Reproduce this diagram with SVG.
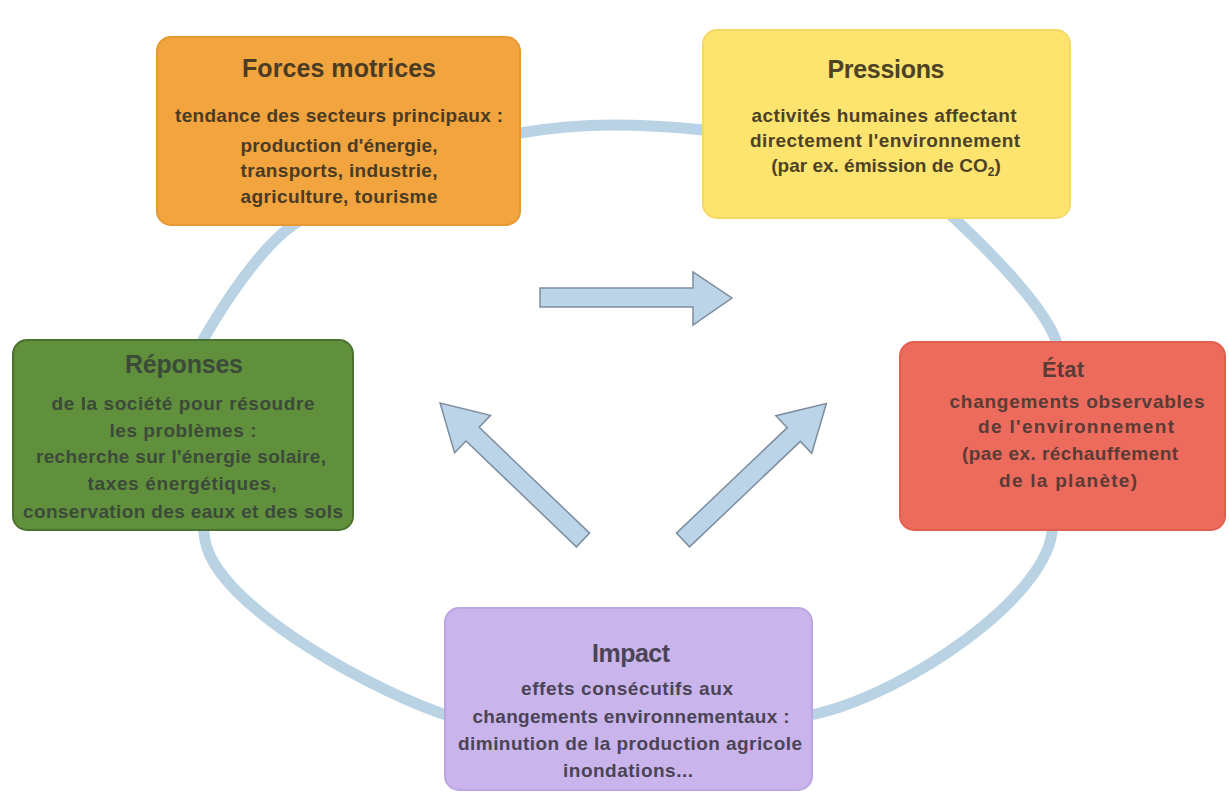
<svg xmlns="http://www.w3.org/2000/svg" width="1229" height="795" viewBox="0 0 1229 795">
<style>
.ring{fill:none;stroke:#b9d3e4;stroke-width:11;stroke-linecap:round;stroke-linejoin:round}
.arr{fill:#bcd4e8;stroke:#7d8d9e;stroke-width:1.5;stroke-linejoin:miter}
.box{stroke-width:2}
text{font-family:"Liberation Sans",Arial,Helvetica,sans-serif;font-weight:bold;text-anchor:middle}
.t{font-size:25px}
.b{font-size:19px}
</style>
<rect width="1229" height="795" fill="#ffffff"/>
<g id="connectors">
<path class="ring" d="M520,133 C550,128 580,125 612,125 C645,125 675,127 703,130 C770,137 909,176 953,217 C982,244 1040,301 1055,338 C1074,384 1059,486 1052,533 C1042,600 910,690 820,713 C770,726 490,731 440,713 C350,680 215,600 205,540 C201,516 186,370 203,340 C223,305 260,248 293,225 C342,191 460,142 520,133 Z"/>
<polygon class="arr" points="540,288 693,288 693,272 732,298 693,325 693,307 540,307"/>
<polygon class="arr" transform="translate(583,540) rotate(-136.2)" points="0,-9.5 153,-9.5 153,-26 198,0 153,26 153,9.5 0,9.5"/>
<polygon class="arr" transform="translate(683,540) rotate(-43.6)" points="0,-9.5 153,-9.5 153,-26 198,0 153,26 153,9.5 0,9.5"/>
</g>
<g id="forces-motrices">
<rect class="box" x="157" y="37" width="363" height="188" rx="14" fill="#f2a43e" stroke="#e69833"/>
<g fill="#4a3b24">
<text class="t" x="339" y="77" textLength="194">Forces motrices</text>
<text class="b" x="339" y="122" textLength="328">tendance des secteurs principaux :</text>
<text class="b" x="339" y="152" textLength="197">production d'énergie,</text>
<text class="b" x="339" y="177" textLength="197">transports, industrie,</text>
<text class="b" x="339" y="203" textLength="197">agriculture, tourisme</text>
</g>
</g>
<g id="pressions">
<rect class="box" x="703" y="30" width="367" height="188" rx="14" fill="#fde46f" stroke="#f5d964"/>
<g fill="#4d4226">
<text class="t" x="886" y="78" textLength="117">Pressions</text>
<text class="b" x="884" y="122" textLength="265">activités humaines affectant</text>
<text class="b" x="885" y="147" textLength="270">directement l'environnement</text>
<text class="b" x="886" y="172">(par ex. émission de CO<tspan font-size="12" dy="4">2</tspan><tspan dy="-4">)</tspan></text>
</g>
</g>
<g id="reponses">
<rect class="box" x="13" y="340" width="340" height="190" rx="14" fill="#61903d" stroke="#4b7130" stroke-width="3"/>
<g fill="#3c4a39">
<text class="t" x="184" y="373" textLength="118">Réponses</text>
<text class="b" x="183" y="410" textLength="263">de la société pour résoudre</text>
<text class="b" x="183" y="437" textLength="147">les problèmes :</text>
<text class="b" x="181" y="463" textLength="290">recherche sur l'énergie solaire,</text>
<text class="b" x="182" y="490" textLength="189">taxes énergétiques,</text>
<text class="b" x="183" y="518" textLength="320">conservation des eaux et des sols</text>
</g>
</g>
<g id="etat">
<rect class="box" x="900" y="342" width="325" height="188" rx="14" fill="#ec6b5c" stroke="#e0604f"/>
<g fill="#5a3b36">
<text class="t" x="1063" y="377" style="font-size:22px" textLength="42">État</text>
<text class="b" x="1077" y="408" textLength="255">changements observables</text>
<text class="b" x="1076" y="433" textLength="196">de l'environnement</text>
<text class="b" x="1070" y="460" textLength="216">(pae ex. réchauffement</text>
<text class="b" x="1068" y="487" textLength="138">de la planète)</text>
</g>
</g>
<g id="impact">
<rect class="box" x="445" y="608" width="367" height="182" rx="14" fill="#c9b5ec" stroke="#bba6e2"/>
<g fill="#4a4455">
<text class="t" x="631" y="662" textLength="78">Impact</text>
<text class="b" x="627" y="695" textLength="212">effets consécutifs aux</text>
<text class="b" x="631" y="723" textLength="317">changements environnementaux :</text>
<text class="b" x="630" y="750" textLength="344">diminution de la production agricole</text>
<text class="b" x="628" y="777" textLength="130">inondations...</text>
</g>
</g>
</svg>
